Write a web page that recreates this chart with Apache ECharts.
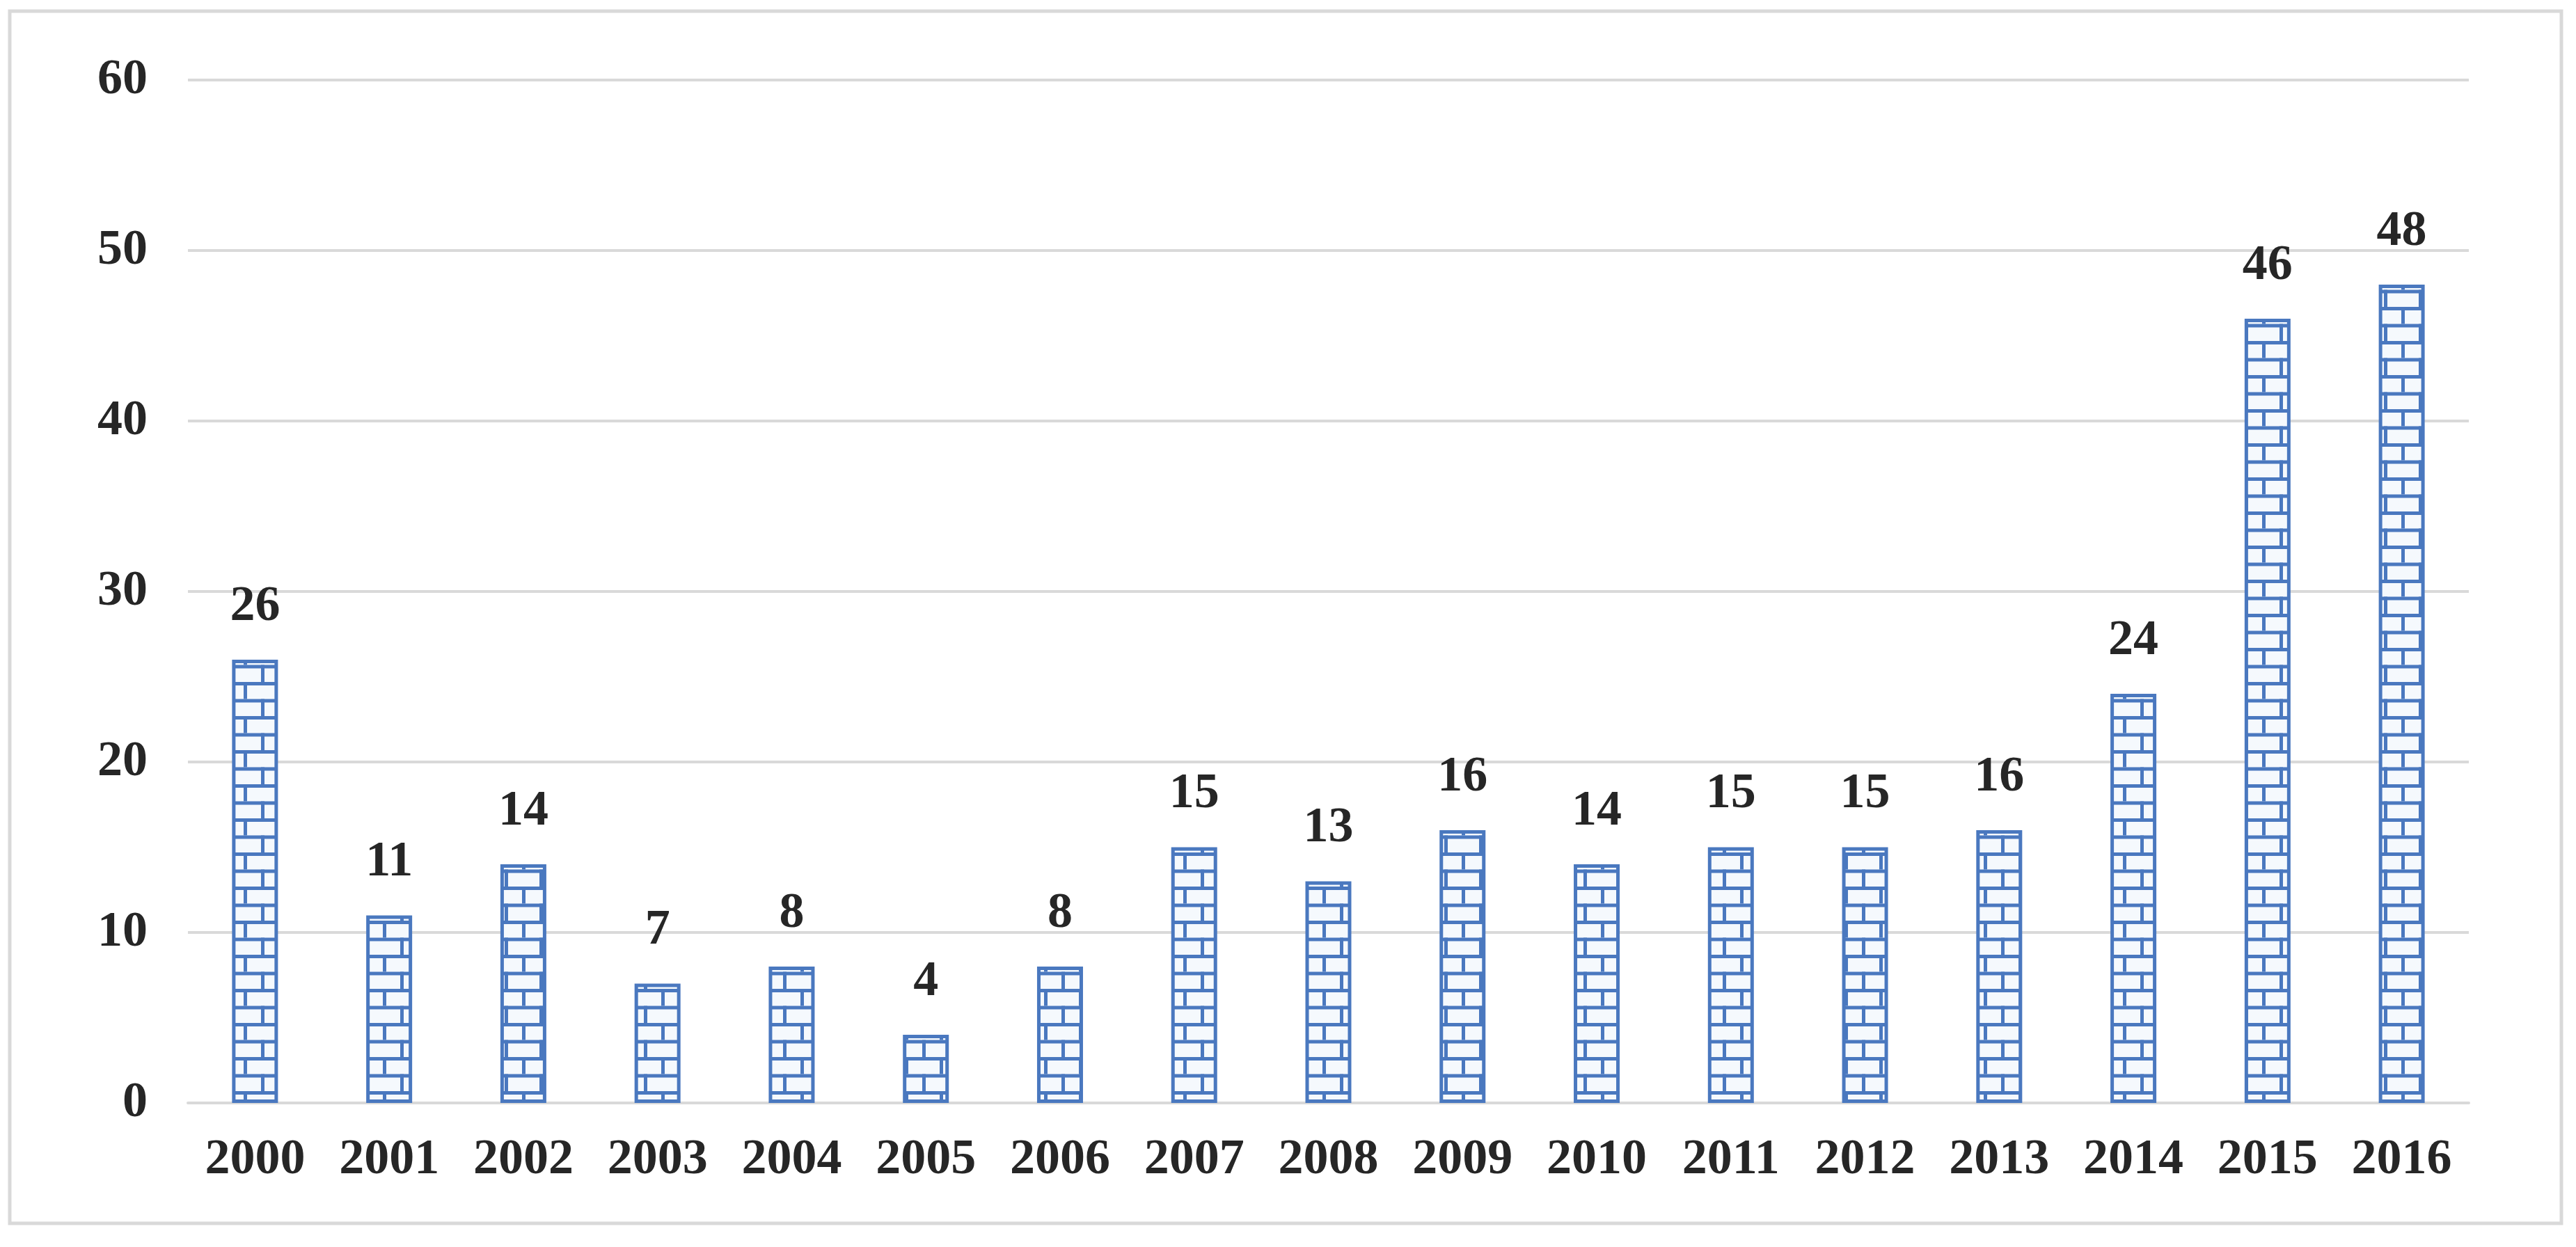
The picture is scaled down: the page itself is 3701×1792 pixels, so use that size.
<!DOCTYPE html>
<html>
<head>
<meta charset="utf-8">
<script src="https://cdn.jsdelivr.net/npm/echarts@6/dist/echarts.min.js"></script>
<style>
html,body{margin:0;padding:0;background:#fff;}
#chart{width:3701px;height:1792px;}
</style>
</head>
<body>
<div id="chart"></div>
<script>
const years = ['2000','2001','2002','2003','2004','2005','2006','2007','2008','2009','2010','2011','2012','2013','2014','2015','2016'];
const counts = [26, 11, 14, 7, 8, 4, 8, 15, 13, 16, 14, 15, 15, 16, 24, 46, 48];
const yTicks = [0, 10, 20, 30, 40, 50, 60];

function brickPattern() {
  const w = 50, h = 49, t = 5;
  const c = document.createElement('canvas');
  c.width = w; c.height = h;
  const g = c.getContext('2d');
  g.fillStyle = '#f5f9fd';
  g.fillRect(0, 0, w, h);
  g.fillStyle = '#4a78bf';
  g.fillRect(0, 0, w, t);
  g.fillRect(0, 24.5, w, t);
  g.fillRect(0, 0, t, 24.5);
  g.fillRect(25, 24.5, t, 24.5);
  return c;
}

const chart = echarts.init(document.getElementById('chart'), null, {renderer: 'canvas'});
const fontFamily = '"Liberation Serif", "Times New Roman", serif';
chart.setOption({
  animation: false,
  backgroundColor: '#ffffff',
  graphic: [{
    type: 'rect',
    shape: {x: 14, y: 16, width: 3666, height: 1742},
    style: {fill: 'none', stroke: '#d9d9d9', lineWidth: 5},
    silent: true
  }],
  grid: {left: 270, right: 154, top: 115, bottom: 207, containLabel: false},
  xAxis: {
    type: 'category',
    data: years,
    axisLine: {show: true, lineStyle: {color: '#d9d9d9', width: 4}},
    axisTick: {show: false},
    axisLabel: {
      color: '#262626', fontFamily: fontFamily, fontWeight: 'bold', fontSize: 72,
      margin: 46, interval: 0
    }
  },
  yAxis: {
    type: 'value',
    min: yTicks[0], max: yTicks[yTicks.length - 1], interval: 10,
    axisLine: {show: false},
    axisTick: {show: false},
    splitLine: {lineStyle: {color: '#d9d9d9', width: 4}},
    axisLabel: {
      color: '#262626', fontFamily: fontFamily, fontWeight: 'bold', fontSize: 72,
      margin: 58
    }
  },
  series: [{
    type: 'bar',
    data: counts,
    barWidth: 66,
    itemStyle: {
      color: {image: brickPattern(), repeat: 'repeat'},
      borderColor: '#4a78bf',
      borderWidth: 5
    },
    label: {
      show: true, position: 'top', distance: 40,
      color: '#262626', fontFamily: fontFamily, fontWeight: 'bold', fontSize: 72
    }
  }]
});
</script>
</body>
</html>
